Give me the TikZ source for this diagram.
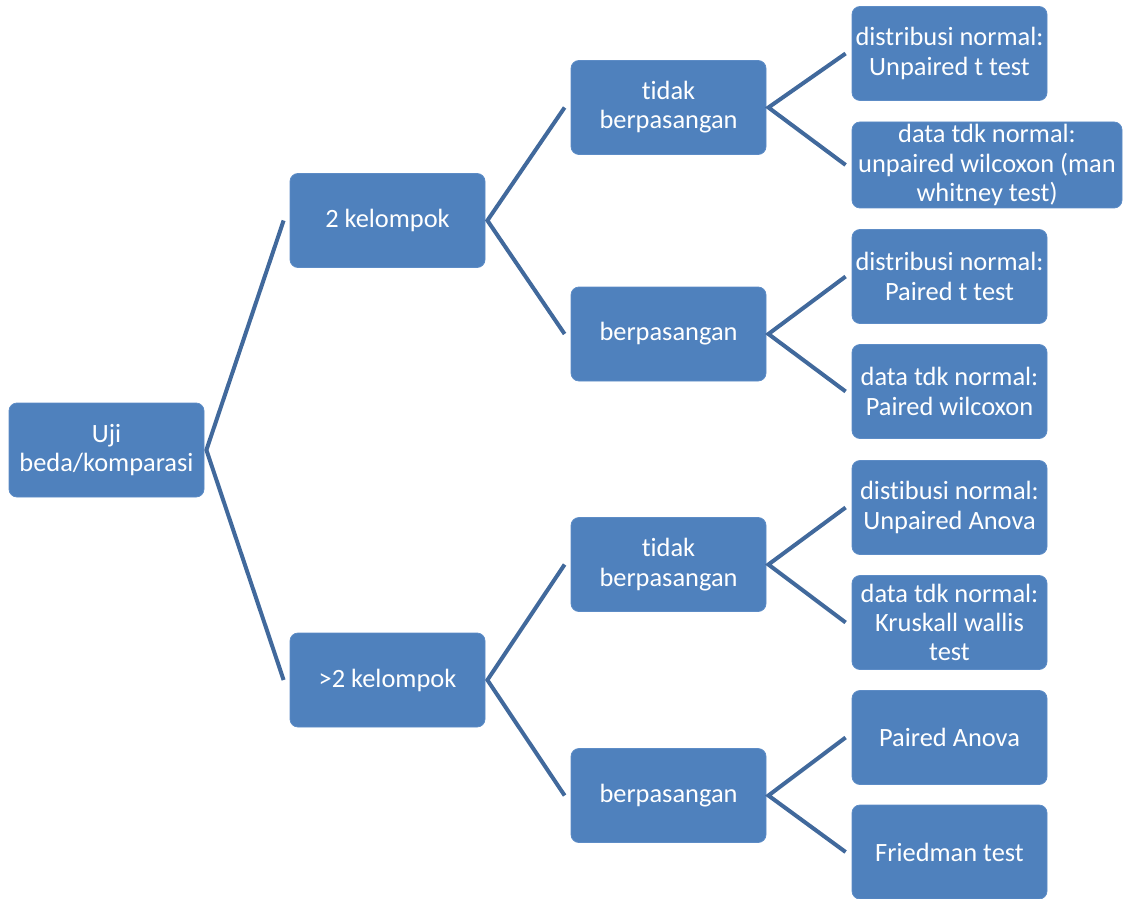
\documentclass[tikz,border=0pt]{standalone}
\usepackage{fontspec}
\setmainfont[Ligatures=NoCommon]{Carlito}
\usepackage{xcolor}
\definecolor{boxblue}{HTML}{4F81BD}
\definecolor{boxedge}{HTML}{5D8CC6}
\definecolor{lineblue}{HTML}{41699C}

\begin{document}
\begin{tikzpicture}[x=0.5pt, y=-0.5pt,
    kotak/.style={rectangle, rounded corners=4pt, fill=boxblue, draw=boxedge, line width=0.4pt,
        text=white, align=center, minimum width=97.5pt, minimum height=47pt, inner sep=1pt,
        font=\fontsize{13.2}{14.6}\selectfont},
    garis/.style={lineblue, line width=2pt, line join=miter}]
    \useasboundingbox (0,0) rectangle (1127,898);

    % akar
    \node[kotak] (root) at (106.5,450) {Uji\\beda/komparasi};

    % jumlah kelompok
    \node[kotak] (k2) at (387.5,220.5) {2 kelompok};
    \node[kotak] (k3) at (387.5,680) {>2 kelompok};

    % pasangan data
    \node[kotak] (tb1) at (668.5,107.5) {tidak\\berpasangan};
    \node[kotak] (bp1) at (668.5,334) {berpasangan};
    \node[kotak] (tb2) at (668.5,564.5) {tidak\\berpasangan};
    \node[kotak] (bp2) at (668.5,795.5) {berpasangan};

    % uji statistik
    \node[kotak] (ut) at (949.5,53.5) {distribusi normal:\\Unpaired t test};
    \node[kotak, minimum width=135pt, minimum height=43pt] (uw) at (987,165)
        {data tdk normal:\\unpaired wilcoxon (man\\whitney test)};
    \node[kotak] (pt) at (949.5,276.5) {distribusi normal:\\Paired t test};
    \node[kotak] (pw) at (949.5,391.5) {data tdk normal:\\Paired wilcoxon};
    \node[kotak] (ua) at (949.5,507.5) {distibusi normal:\\Unpaired Anova};
    \node[kotak] (kw) at (949.5,622.5) {data tdk normal:\\Kruskall wallis\\test};
    \node[kotak] (pa) at (949.5,737.5) {Paired Anova};
    \node[kotak] (fr) at (949.5,852) {Friedman test};

    % garis penghubung
    \draw[garis] ([xshift=-3pt]k2.west) -- ([xshift=1pt]root.east) -- ([xshift=-3pt]k3.west);
    \draw[garis] ([xshift=-3pt]tb1.west) -- ([xshift=1pt]k2.east) -- ([xshift=-3pt]bp1.west);
    \draw[garis] ([xshift=-3pt]tb2.west) -- ([xshift=1pt]k3.east) -- ([xshift=-3pt]bp2.west);
    \draw[garis] ([xshift=-3pt]ut.west) -- ([xshift=1pt]tb1.east) -- ([xshift=-3pt]uw.west);
    \draw[garis] ([xshift=-3pt]pt.west) -- ([xshift=1pt]bp1.east) -- ([xshift=-3pt]pw.west);
    \draw[garis] ([xshift=-3pt]ua.west) -- ([xshift=1pt]tb2.east) -- ([xshift=-3pt]kw.west);
    \draw[garis] ([xshift=-3pt]pa.west) -- ([xshift=1pt]bp2.east) -- ([xshift=-3pt]fr.west);
\end{tikzpicture}
\end{document}
